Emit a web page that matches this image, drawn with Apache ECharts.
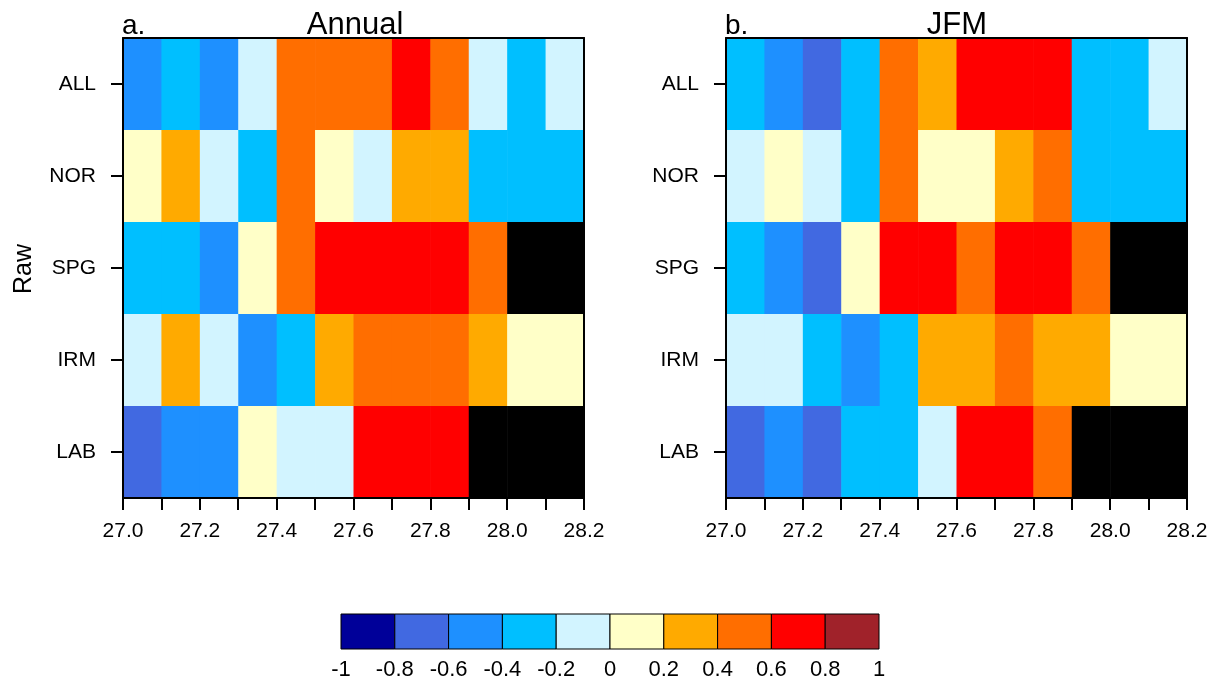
<!DOCTYPE html>
<html>
<head>
<meta charset="utf-8">
<script src="https://cdn.jsdelivr.net/npm/echarts@6/dist/echarts.min.js"></script>
<style>
html,body{margin:0;padding:0;background:#fff;}
#chart{width:1213px;height:681px;}
</style>
</head>
<body>
<div id="chart"></div>
<script>
// ---- data ----
const rows = ['ALL', 'NOR', 'SPG', 'IRM', 'LAB'];
const densityStarts = [27.0, 27.1, 27.2, 27.3, 27.4, 27.5, 27.6, 27.7, 27.8, 27.9, 28.0, 28.1];
const binWidth = 0.1;

const annualALL = [-0.45, -0.32, -0.51, -0.12, 0.48, 0.52, 0.55, 0.66, 0.47, -0.08, -0.28, -0.15];
const annualNOR = [0.11, 0.31, -0.14, -0.27, 0.45, 0.08, -0.06, 0.36, 0.33, -0.35, -0.31, -0.25];
const annualSPG = [-0.36, -0.29, -0.44, 0.06, 0.49, 0.68, 0.71, 0.74, 0.65, 0.53, null, null];
const annualIRM = [-0.09, 0.27, -0.11, -0.46, -0.34, 0.29, 0.46, 0.51, 0.44, 0.25, 0.12, 0.07];
const annualLAB = [-0.67, -0.55, -0.42, 0.04, -0.13, -0.05, 0.63, 0.72, 0.69, null, null, null];

const jfmALL = [-0.27, -0.48, -0.64, -0.31, 0.47, 0.34, 0.67, 0.72, 0.64, -0.36, -0.29, -0.11];
const jfmNOR = [-0.07, 0.09, -0.12, -0.33, 0.42, 0.14, 0.05, 0.28, 0.51, -0.38, -0.30, -0.26];
const jfmSPG = [-0.32, -0.52, -0.71, 0.13, 0.66, 0.73, 0.55, 0.70, 0.62, 0.46, null, null];
const jfmIRM = [-0.16, -0.04, -0.28, -0.49, -0.37, 0.32, 0.26, 0.48, 0.35, 0.23, 0.17, 0.10];
const jfmLAB = [-0.74, -0.57, -0.66, -0.24, -0.35, -0.10, 0.69, 0.75, 0.57, null, null, null];

const levels = [-1, -0.8, -0.6, -0.4, -0.2, 0, 0.2, 0.4, 0.6, 0.8, 1];
const levelColors = ['#000099', '#4169E1', '#1E90FF', '#00BFFF', '#D2F4FF',
                     '#FFFFC8', '#FFAA00', '#FF6E00', '#FF0000', '#A0222A'];
const missingColor = '#000000';

const panelTitles = ['Annual', 'JFM'];
const panelLetters = ['a.', 'b.'];
const yTitle = 'Raw';

// ---- build ----
const FONT = '"Liberation Sans", Arial, Helvetica, sans-serif';

function colorFor(v) {
  for (let i = 0; i < levelColors.length; i++) {
    if (v >= levels[i] && v < levels[i + 1]) return levelColors[i];
  }
  return v >= levels[levels.length - 1] ? levelColors[levelColors.length - 1] : levelColors[0];
}

function buildCells(rowArrays) {
  const out = [];
  rowArrays.forEach((arr, r) => {
    arr.forEach((v, c) => {
      out.push([densityStarts[c], r, v === null ? 0 : v, v === null ? 1 : 0]);
    });
  });
  return out;
}

const annualCells = buildCells([annualALL, annualNOR, annualSPG, annualIRM, annualLAB]);
const jfmCells = buildCells([jfmALL, jfmNOR, jfmSPG, jfmIRM, jfmLAB]);
const barCells = levels.slice(0, -1).map((lo, i) => [lo, levels[i + 1], i]);

const grids = [
  { left: 123, top: 38, width: 461, height: 460 },
  { left: 726, top: 38, width: 461, height: 460 },
  { left: 341, top: 614, width: 538, height: 36 }
];

const lineStyle = { color: '#000', width: 2 };

function mainX(gi) {
  return [{
    type: 'value', gridIndex: gi, position: 'bottom', min: 27.0, max: 28.2, interval: 0.2,
    z: 10,
    axisLine: { show: true, onZero: false, lineStyle },
    axisTick: { show: true, length: 12, lineStyle },
    minorTick: { show: true, splitNumber: 2, length: 12, lineStyle },
    splitLine: { show: false }, minorSplitLine: { show: false },
    axisLabel: { margin: 23, fontSize: 21, color: '#000', fontFamily: FONT,
      formatter: v => v.toFixed(1), showMinLabel: true, showMaxLabel: true }
  }, {
    type: 'value', gridIndex: gi, position: 'top', min: 27.0, max: 28.2, z: 10,
    axisLine: { show: true, onZero: false, lineStyle },
    axisTick: { show: false }, axisLabel: { show: false }, splitLine: { show: false }
  }];
}
function mainY(gi) {
  return [{
    type: 'category', gridIndex: gi, data: rows, inverse: true, position: 'left', z: 10,
    axisLine: { show: true, onZero: false, lineStyle },
    axisTick: { show: true, alignWithLabel: true, length: 12, lineStyle },
    axisLabel: { margin: 27, fontSize: 21, color: '#000', fontFamily: FONT },
    splitLine: { show: false }
  }, {
    type: 'category', gridIndex: gi, data: rows, inverse: true, position: 'right', z: 10,
    axisLine: { show: true, onZero: false, lineStyle },
    axisTick: { show: false }, axisLabel: { show: false }, splitLine: { show: false }
  }];
}

function cellRender(params, api) {
  const x0 = api.value(0);
  const r = api.value(1);
  const v = api.value(2);
  const miss = api.value(3);
  const p = api.coord([x0, r]);
  const s = api.size([binWidth, 1]);
  return {
    type: 'rect',
    shape: { x: p[0], y: p[1] - s[1] / 2, width: s[0] + 0.6, height: s[1] + 0.6 },
    style: { fill: miss ? missingColor : colorFor(v) }
  };
}

const option = {
  backgroundColor: '#fff',
  animation: false,
  grid: grids,
  xAxis: [
    ...mainX(0), ...mainX(1),
    {
      type: 'value', gridIndex: 2, min: -1, max: 1, interval: 0.2,
      axisLine: { show: false }, axisTick: { show: false }, splitLine: { show: false },
      axisLabel: { margin: 10, fontSize: 22, color: '#000', fontFamily: FONT,
        formatter: v => String(Math.round(v * 10) / 10), showMinLabel: true, showMaxLabel: true }
    }
  ],
  yAxis: [
    ...mainY(0), ...mainY(1),
    { type: 'value', gridIndex: 2, min: 0, max: 1, show: false }
  ],
  series: [
    { type: 'custom', xAxisIndex: 0, yAxisIndex: 0, data: annualCells, renderItem: cellRender,
      encode: { x: 0, y: 1 }, clip: true, z: 2 },
    { type: 'custom', xAxisIndex: 2, yAxisIndex: 2, data: jfmCells, renderItem: cellRender,
      encode: { x: 0, y: 1 }, clip: true, z: 2 },
    { type: 'custom', xAxisIndex: 4, yAxisIndex: 4, data: barCells,
      encode: { x: [0, 1] },
      renderItem: function (params, api) {
        const p0 = api.coord([api.value(0), 1]);
        const p1 = api.coord([api.value(1), 0]);
        return {
          type: 'rect',
          shape: { x: p0[0], y: p0[1], width: p1[0] - p0[0], height: p1[1] - p0[1] },
          style: { fill: levelColors[api.value(2)], stroke: '#000', lineWidth: 1 }
        };
      } }
  ],
  graphic: [
    { type: 'text', x: 355, y: 41, style: { text: panelTitles[0], font: '31px ' + FONT, fill: '#000', textAlign: 'center', textVerticalAlign: 'bottom' } },
    { type: 'text', x: 957, y: 41, style: { text: panelTitles[1], font: '31px ' + FONT, fill: '#000', textAlign: 'center', textVerticalAlign: 'bottom' } },
    { type: 'text', x: 122, y: 40, style: { text: panelLetters[0], font: '28px ' + FONT, fill: '#000', textAlign: 'left', textVerticalAlign: 'bottom' } },
    { type: 'text', x: 725, y: 40, style: { text: panelLetters[1], font: '28px ' + FONT, fill: '#000', textAlign: 'left', textVerticalAlign: 'bottom' } },
    { type: 'text', x: 24, y: 269, rotation: Math.PI / 2, style: { text: yTitle, font: '25px ' + FONT, fill: '#000', textAlign: 'center', textVerticalAlign: 'middle' } }
  ]
};

const chart = echarts.init(document.getElementById('chart'), null, { renderer: 'canvas' });
chart.setOption(option);
</script>
</body>
</html>
